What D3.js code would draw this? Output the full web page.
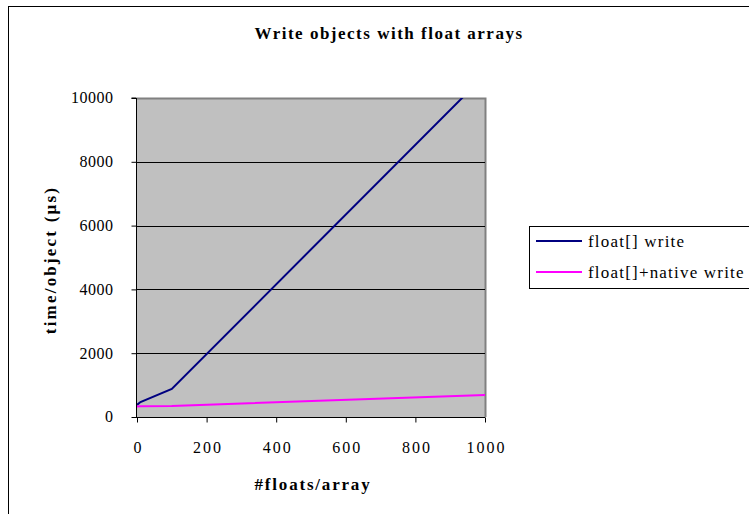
<!DOCTYPE html>
<html><head><meta charset="utf-8">
<script src="https://cdn.jsdelivr.net/npm/d3@7"></script>
<style>body{margin:0;background:#fff}svg{display:block;font-family:"Liberation Serif","Times New Roman",serif}</style>
</head><body><svg id="c" width="749" height="514"></svg>
<script>
const xVals = [0, 10, 100, 1000];
const seriesNames = ["float[] write", "float[]+native write"];
const blueVals = [380, 470, 880, 10720];
const magentaVals = [330, 335, 345, 690];
const yTicks = [0, 2000, 4000, 6000, 8000, 10000];
const xTicks = [0, 200, 400, 600, 800, 1000];
const colors = ["#000080", "#FF00FF"];

const svg = d3.select("#c");
svg.append("rect").attr("x",8.5).attr("y",6.5).attr("width",760).attr("height",520)
  .attr("fill","#fff").attr("stroke","#000").attr("stroke-width",1);

const L=137, R=485, T=98, B=417;
const x = d3.scaleLinear().domain([0,1000]).range([L,R]);
const y = d3.scaleLinear().domain([0,10000]).range([B,T]);

svg.append("rect").attr("x",L).attr("y",T).attr("width",R-L).attr("height",B-T).attr("fill","#C0C0C0");
svg.append("path").attr("d",`M${L},${T+0.5}H${R+0.5}V${B}`).attr("fill","none").attr("stroke","#808080").attr("stroke-width",2);
svg.append("g").selectAll("line").data(yTicks.filter(d=>d>0&&d<10000)).join("line")
  .attr("x1",L).attr("x2",R).attr("y1",d=>Math.round(y(d))+0.5).attr("y2",d=>Math.round(y(d))+0.5).attr("stroke","#000");

svg.append("clipPath").attr("id","pc").append("rect").attr("x",L).attr("y",T).attr("width",R-L).attr("height",B-T);
const line = d3.line().x((d,i)=>x(xVals[i])).y(d=>y(d));
[blueVals, magentaVals].forEach((vals,i)=>{
  svg.append("path").attr("d",line(vals)).attr("fill","none").attr("stroke",colors[i]).attr("stroke-width",2).attr("clip-path","url(#pc)");
});

const yAxis = d3.axisLeft(y).tickValues(yTicks).tickSize(5).tickFormat(d3.format("d"));
const gy = svg.append("g").attr("transform",`translate(${L-0.5},0)`).call(yAxis);
const xAxis = d3.axisBottom(x).tickValues(xTicks).tickSize(5).tickFormat(d3.format("d"));
const gx = svg.append("g").attr("transform",`translate(0,${B+0.5})`).call(xAxis);
[gy,gx].forEach(g=>{
  g.attr("font-family",null).attr("font-size",null);
  g.selectAll(".domain").attr("stroke","#000").attr("stroke-width",1);
  g.selectAll(".tick line").attr("stroke","#000");
  g.selectAll("text").style("font-family","'Liberation Serif',serif").style("font-size","16px").attr("fill","#000");
});
gy.selectAll("text").attr("x",-23).attr("dy","0.3em").style("letter-spacing","0.5px");
gx.selectAll("text").attr("y",35).attr("dy",0).attr("dx",1).style("letter-spacing","2px");
gy.select(".domain").attr("d",`M-5,${T}H0V${B}`);
gx.select(".domain").attr("d",`M${L-5},0H${R}`);

const bold = sel=>sel.attr("font-weight","bold").style("font-size","17px");
bold(svg.append("text").attr("x",389).attr("y",39).attr("text-anchor","middle").style("letter-spacing","1.5px").text("Write objects with float arrays"));
bold(svg.append("text").attr("x",313).attr("y",490).attr("text-anchor","middle").style("letter-spacing","1.8px").text("#floats/array"));
bold(svg.append("text").attr("transform","translate(56,260) rotate(-90)").attr("text-anchor","middle").style("letter-spacing","2.2px").text("time/object (µs)"));

const lg = svg.append("g");
lg.append("rect").attr("x",529.5).attr("y",226.5).attr("width",230).attr("height",62).attr("fill","#fff").attr("stroke","#000");
seriesNames.forEach((n,i)=>{
  const yy = 241 + i*31;
  lg.append("line").attr("x1",536).attr("x2",582).attr("y1",yy).attr("y2",yy).attr("stroke",colors[i]).attr("stroke-width",2);
  lg.append("text").attr("x",588).attr("y",yy+6).style("font-size","17px").style("letter-spacing","1.2px").text(n);
});
</script></body></html>
